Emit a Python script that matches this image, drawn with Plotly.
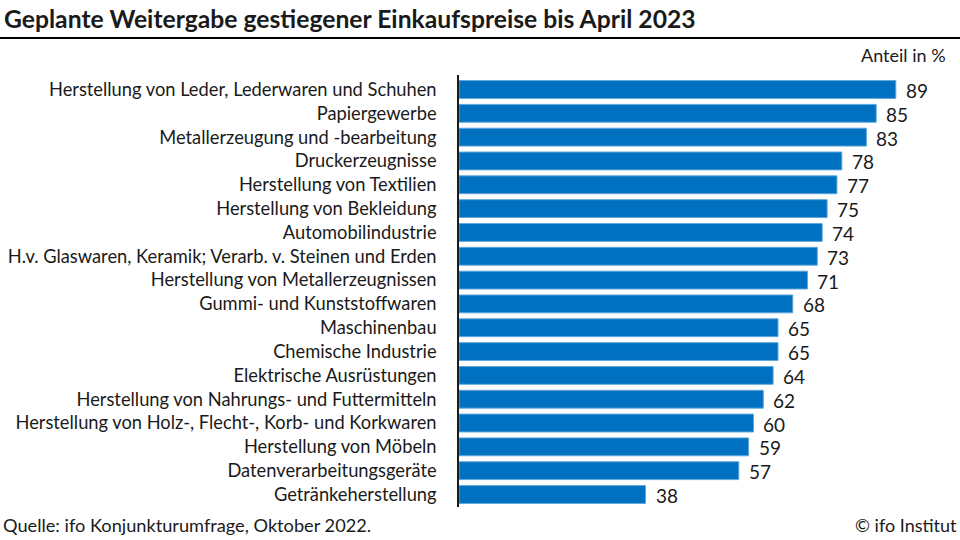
import plotly.graph_objects as go

# Daten (Anteil in %)
branchen = [
    "Herstellung von Leder, Lederwaren und Schuhen",
    "Papiergewerbe",
    "Metallerzeugung und -bearbeitung",
    "Druckerzeugnisse",
    "Herstellung von Textilien",
    "Herstellung von Bekleidung",
    "Automobilindustrie",
    "H.v. Glaswaren, Keramik; Verarb. v. Steinen und Erden",
    "Herstellung von Metallerzeugnissen",
    "Gummi- und Kunststoffwaren",
    "Maschinenbau",
    "Chemische Industrie",
    "Elektrische Ausrüstungen",
    "Herstellung von Nahrungs- und Futtermitteln",
    "Herstellung von Holz-, Flecht-, Korb- und Korkwaren",
    "Herstellung von Möbeln",
    "Datenverarbeitungsgeräte",
    "Getränkeherstellung",
]
anteil = [89, 85, 83, 78, 77, 75, 74, 73, 71, 68, 65, 65, 64, 62, 60, 59, 57, 38]

FONT = "Lato"
BLUE = "#0070C0"
INK = "#1a1a1a"

# Plotbereich in Pixeln
L, R, T, B = 459, 20, 75, 33
PW, PH = 960 - L - R, 540 - T - B

fig = go.Figure()
fig.add_trace(go.Bar(
    x=anteil,
    y=branchen,
    orientation="h",
    marker=dict(color=BLUE, line=dict(color="#5FA8DD", width=1)),
    hoverinfo="skip",
))

# Wertebeschriftung rechts neben den Balken
value_labels = [
    dict(x=v, y=b, text=str(v), xref="x", yref="y", xanchor="left", yanchor="middle",
         xshift=8, yshift=-1, showarrow=False, font=dict(size=19, color=INK, family=FONT))
    for v, b in zip(anteil, branchen)
]

fig.update_layout(
    width=960, height=540,
    margin=dict(l=L, r=R, t=T, b=B),
    paper_bgcolor="white",
    plot_bgcolor="white",
    showlegend=False,
    bargap=0.25,
    font=dict(family=FONT, color=INK),
    xaxis=dict(range=[0, 98], visible=False, fixedrange=True, automargin=False),
    yaxis=dict(
        autorange="reversed",
        automargin=False,
        showline=True, linecolor=INK, linewidth=1.5,
        showgrid=False, ticks="",
        ticklabelstandoff=17,
        tickfont=dict(size=18.3, color=INK, family=FONT),
        fixedrange=True,
    ),
    shapes=[dict(type="line", xref="paper", yref="paper",
                 x0=-L / PW, x1=1 + R / PW, y0=1 + 37 / PH, y1=1 + 37 / PH,
                 line=dict(color="black", width=2))],
    annotations=value_labels + [
        dict(text="<b>Geplante Weitergabe gestiegener Einkaufspreise bis April 2023</b>",
             xref="paper", yref="paper", x=(-L + 2) / PW, y=1 + 57 / PH,
             xanchor="left", yanchor="middle", showarrow=False,
             font=dict(size=24.7, color=INK, family=FONT)),
        dict(text="Anteil in %", xref="paper", yref="paper",
             x=1 + 8 / PW, y=1 + 20 / PH, xanchor="right", yanchor="middle",
             showarrow=False, font=dict(size=18, color=INK, family=FONT)),
        dict(text="Quelle: ifo Konjunkturumfrage, Oktober 2022.", xref="paper", yref="paper",
             x=(-L + 1) / PW, y=-18 / PH, xanchor="left", yanchor="middle",
             showarrow=False, font=dict(size=18.2, color=INK, family=FONT)),
        dict(text="© ifo Institut", xref="paper", yref="paper",
             x=1 + 19 / PW, y=-18 / PH, xanchor="right", yanchor="middle",
             showarrow=False, font=dict(size=18, color=INK, family=FONT)),
    ],
)

fig.write_html(
    "out.html",
    config={"displayModeBar": False, "displaylogo": False},
    post_script="document.body.style.margin='0';document.body.style.overflow='hidden';",
)
